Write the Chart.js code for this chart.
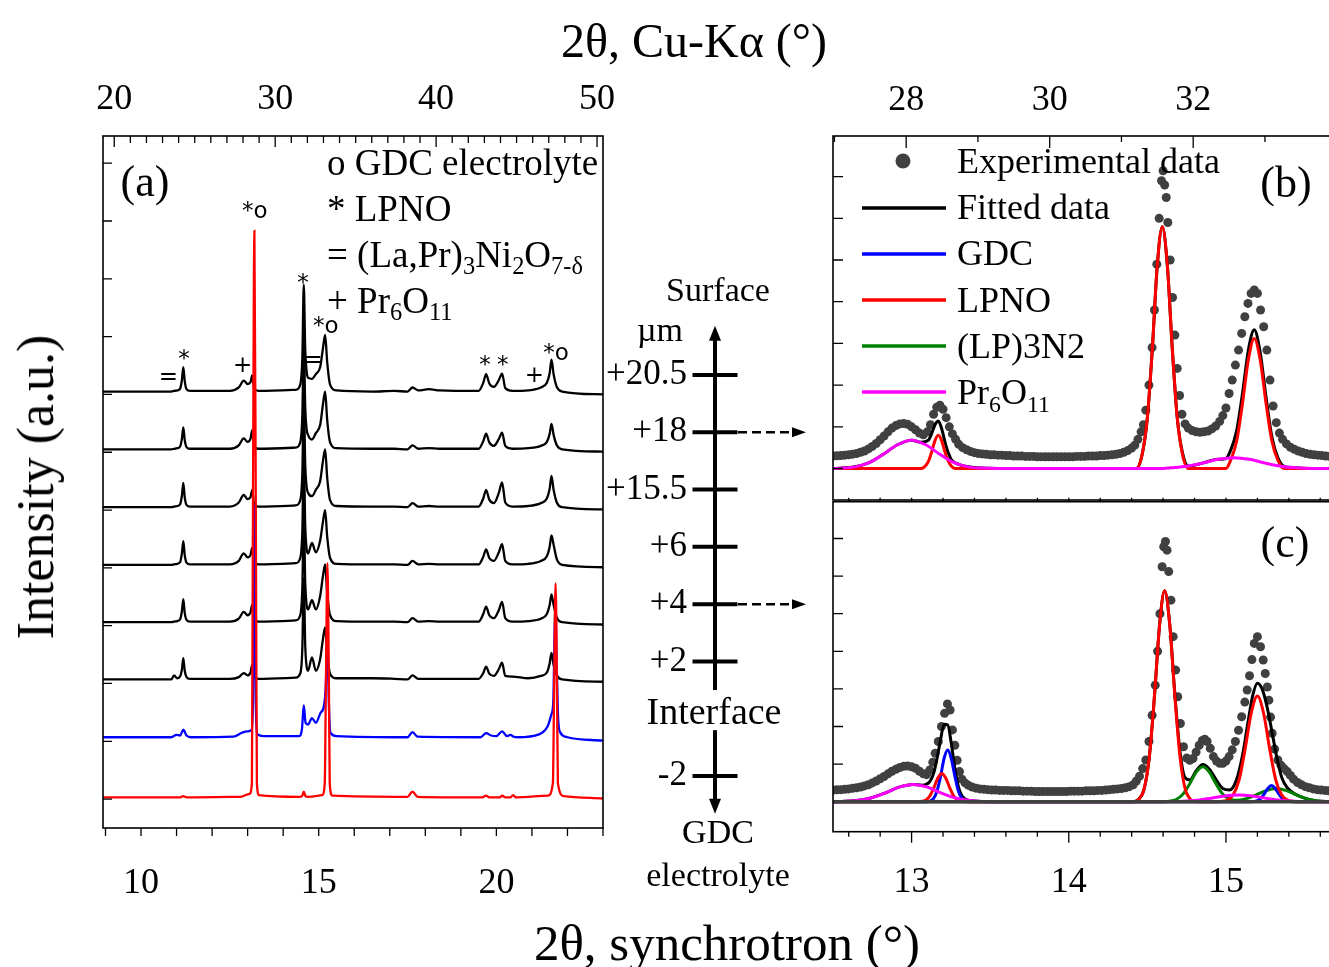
<!DOCTYPE html>
<html>
<head>
<meta charset="utf-8">
<script src="https://cdn.jsdelivr.net/npm/chart.js@4.4.0/dist/chart.umd.min.js"></script>
<style>
  body { margin: 0; width: 1329px; height: 967px; overflow: hidden; background: #fff; position: relative;
         font-family: 'Liberation Serif', 'Times New Roman', serif; color: #000; }
  canvas { position: absolute; }
  .t { position: absolute; white-space: nowrap; line-height: 1; }
  .c { transform: translate(-50%, -50%); }
  .l { transform: translateY(-50%); }
  sub { font-size: 0.66em; vertical-align: -0.32em; line-height: 0; }
</style>
</head>
<body>
<canvas id="ca" width="660" height="967" style="left:0;top:0"></canvas>
<canvas id="cd" width="230" height="640" style="left:600px;top:260px"></canvas>
<canvas id="cb" width="560" height="505" style="left:780px;top:0"></canvas>
<canvas id="cc" width="560" height="472" style="left:780px;top:495px"></canvas>
<div id="texts"></div>
<script>
// ---------- panel (a): depth profile, synchrotron 2theta ----------
const xTrace = [8.93, 10.85, 10.93, 11.02, 11.1, 11.15, 11.19, 11.23, 11.28, 11.38, 12.5, 12.75, 12.89, 13.0, 13.08, 13.13, 13.18, 13.3,
  14.35, 14.48, 14.54, 14.58, 14.62, 14.66, 14.7, 14.81, 14.92, 15.04, 15.12, 15.18, 15.24, 15.32, 15.5, 16.5, 17.13, 17.5, 17.64, 17.8,
  18.1, 18.4, 19.5, 19.63, 19.71, 19.8, 19.93, 20.07, 20.16, 20.25, 20.45, 20.9, 21.25, 21.42, 21.5, 21.55, 21.61, 21.7, 21.85, 23.0];
const trace205 = [0, 0, 0.01, 0.02, 0.05, 0.2, 0.42, 0.18, 0.04, 0.01, 0.01, 0.07, 0.19, 0.13, 0.16, 0.28, 0.05, 0.01, 0.03, 0.12, 0.6, 1.85,
  0.75, 0.35, 0.24, 0.22, 0.3, 0.42, 0.75, 0.98, 0.5, 0.12, 0.02, 0.0, 0.01, 0.0, 0.07, 0.02, 0.04, 0.02, 0.01, 0.15, 0.3, 0.14, 0.08, 0.2,
  0.31, 0.06, 0.01, 0.02, 0.07, 0.15, 0.32, 0.55, 0.3, 0.08, 0.0, -0.05];
const trace18 = [0, 0, 0.01, 0.02, 0.05, 0.18, 0.38, 0.16, 0.04, 0.01, 0.01, 0.07, 0.19, 0.13, 0.18, 0.33, 0.06, 0.01, 0.03, 0.12, 0.6, 1.9,
  0.75, 0.35, 0.25, 0.17, 0.28, 0.42, 0.78, 1.0, 0.5, 0.12, 0.02, 0.01, 0.01, 0, 0.07, 0.01, 0.02, 0.01, 0.01, 0.14, 0.27, 0.12, 0.06, 0.18,
  0.29, 0.06, 0.01, 0.02, 0.06, 0.13, 0.27, 0.44, 0.25, 0.07, 0, -0.04];
const trace155 = [0, 0, 0.01, 0.02, 0.05, 0.2, 0.42, 0.17, 0.04, 0.01, 0.01, 0.08, 0.21, 0.14, 0.17, 0.3, 0.06, 0.01, 0.03, 0.12, 0.6, 1.9,
  0.75, 0.35, 0.25, 0.19, 0.3, 0.45, 0.8, 1.0, 0.5, 0.12, 0.02, 0.01, 0.01, 0, 0.07, 0.01, 0.02, 0.01, 0.01, 0.15, 0.3, 0.13, 0.07, 0.25,
  0.43, 0.08, 0.01, 0.02, 0.07, 0.15, 0.32, 0.54, 0.3, 0.08, 0, -0.04];
const trace6 = [0, 0, 0.01, 0.02, 0.05, 0.2, 0.41, 0.17, 0.04, 0.01, 0.01, 0.07, 0.2, 0.13, 0.17, 0.3, 0.06, 0.01, 0.03, 0.12, 0.6, 1.9,
  0.7, 0.28, 0.2, 0.38, 0.22, 0.42, 0.75, 0.95, 0.48, 0.12, 0.02, 0.01, 0.01, 0, 0.07, 0.01, 0.02, 0.01, 0.01, 0.14, 0.27, 0.12, 0.07, 0.22,
  0.36, 0.07, 0.01, 0.02, 0.07, 0.15, 0.32, 0.51, 0.35, 0.1, 0, -0.04];
const trace4 = [0, 0, 0.01, 0.02, 0.05, 0.19, 0.4, 0.16, 0.04, 0.01, 0.01, 0.06, 0.18, 0.12, 0.17, 0.3, 0.06, 0.01, 0.03, 0.12, 0.6, 1.85,
  0.7, 0.3, 0.22, 0.38, 0.22, 0.45, 0.8, 1.0, 0.5, 0.12, 0.02, 0.01, 0.01, 0, 0.07, 0.01, 0.02, 0.01, 0.01, 0.14, 0.27, 0.12, 0.07, 0.21,
  0.35, 0.07, 0.01, 0.02, 0.06, 0.14, 0.3, 0.48, 0.3, 0.08, 0, -0.04];
const trace2 = [0, 0, 0.07, 0.02, 0.05, 0.17, 0.37, 0.15, 0.04, 0.01, 0.01, 0.04, 0.11, 0.07, 0.12, 0.25, 0.05, 0.01, 0.03, 0.1, 0.55, 1.75,
  0.6, 0.22, 0.15, 0.38, 0.15, 0.35, 0.7, 0.9, 0.45, 0.1, 0.02, 0.02, 0.01, 0, 0.07, 0.01, 0.01, 0.01, 0.01, 0.11, 0.22, 0.1, 0.06, 0.18,
  0.29, 0.06, 0.05, 0.02, 0.06, 0.12, 0.28, 0.46, 0.25, 0.07, 0, -0.04];

const xTraceM2 = [8.93, 10.85, 11.0, 11.1, 11.19, 11.28, 11.4, 12.6, 12.85, 13.0, 13.1, 13.15, 13.19, 13.23, 13.28, 13.45, 14.45, 14.53,
  14.58, 14.63, 14.7, 14.81, 14.92, 15.05, 15.15, 15.2, 15.245, 15.285, 15.33, 15.5, 17.5, 17.64, 17.78, 19.55, 19.71, 19.85, 20.0, 20.16,
  20.3, 20.4, 20.48, 20.6, 21.2, 21.45, 21.55, 21.6, 21.645, 21.665, 21.69, 21.74, 21.8, 22.0, 23.0];
const traceM2 = [0, 0, 0.04, 0.03, 0.13, 0.03, 0, 0.01, 0.08, 0.1, 0.12, 0.6, 4.0, 0.6, 0.05, 0.02, 0.02, 0.15, 0.55, 0.25, 0.22, 0.33,
  0.25, 0.42, 0.55, 0.9, 1.8, 0.6, 0.08, 0.02, 0, 0.09, 0.01, 0, 0.07, 0.03, 0.02, 0.1, 0.02, 0.04, 0.01, 0, 0.05, 0.2, 0.4, 0.6, 2.0,
  2.3, 1.5, 0.3, 0.08, 0, -0.06];

const xGdc = [8.93, 11.1, 11.19, 11.28, 12.8, 13.05, 13.12, 13.15, 13.19, 13.23, 13.26, 13.32, 14.45, 14.53, 14.58, 14.63, 14.7, 15.1,
  15.17, 15.205, 15.245, 15.285, 15.31, 15.38, 17.5, 17.64, 17.78, 19.6, 19.71, 19.8, 20.1, 20.16, 20.25, 20.4, 20.47, 20.55, 21.45,
  21.59, 21.625, 21.665, 21.705, 21.73, 21.9, 23.0];
const traceGdc = [0, 0, 0.02, 0, 0.01, 0.06, 0.25, 5.0, 9.8, 5.0, 0.25, 0.04, 0.01, 0.02, 0.1, 0.02, 0.01, 0.04, 0.25, 2.1, 4.05, 2.1,
  0.25, 0.03, 0.01, 0.1, 0.01, 0, 0.03, 0, 0, 0.03, 0, 0, 0.04, 0, 0.03, 0.25, 1.9, 3.7, 1.9, 0.25, 0.02, -0.02];

const stackOffsets = [7.05, 6.05, 5.05, 4.05, 3.06, 2.07, 1.07, 0.03];

const peakMarks = ['=', '*', '+', '*o', '*', '=', '*o', '*', '*', '+', '*o'];
const peakMarkX = [10.77, 11.21, 12.86, 13.2, 14.56, 14.84, 15.2, 19.68, 20.18, 21.07, 21.68];
const peakMarkY = [7.28, 7.6, 7.49, 10.16, 8.91, 7.58, 8.16, 7.49, 7.49, 7.32, 7.7];

const tickSync = [10, 15, 20];
const tickCuA = [20, 30, 40, 50];

// ---------- depth scheme ----------
const depthLabels = ['+20.5', '+18', '+15.5', '+6', '+4', '+2', '', '-2'];
const depthArrows = ['+18', '+4'];

// ---------- panel (b): +18 um ----------
const expB = [
  [12.5, .30], [12.525, .305], [12.55, .31], [12.575, .32], [12.6, .33], [12.625, .345], [12.65, .36], [12.675, .39], [12.7, .42],
  [12.725, .47], [12.75, .53], [12.775, .6], [12.8, .69], [12.825, .78], [12.85, .88], [12.875, .97], [12.9, 1.03], [12.925, 1.07],
  [12.95, 1.08], [12.975, 1.06], [13.0, 1.0], [13.025, .93], [13.05, .85], [13.075, .81], [13.1, .88], [13.12, 1.05], [13.14, 1.3],
  [13.16, 1.47], [13.18, 1.52], [13.2, 1.42], [13.22, 1.22], [13.24, 1.0], [13.26, .83], [13.28, .7], [13.3, .58], [13.325, .5],
  [13.35, .45], [13.375, .41], [13.4, .38], [13.425, .36], [13.45, .35],
  [13.475, .34], [13.5, .33], [13.525, .33], [13.55, .32], [13.575, .32], [13.6, .31], [13.625, .31], [13.65, .3], [13.675, .3],
  [13.7, .3], [13.725, .29], [13.75, .29], [13.775, .29], [13.8, .28], [13.825, .28], [13.85, .28], [13.875, .28], [13.9, .28],
  [13.925, .28], [13.95, .28], [13.975, .28], [14.0, .28], [14.025, .28], [14.05, .29], [14.075, .29], [14.1, .29], [14.125, .3],
  [14.15, .3], [14.175, .3], [14.2, .31], [14.225, .31], [14.25, .32], [14.275, .33], [14.3, .34], [14.325, .36], [14.35, .39],
  [14.375, .43], [14.4, .49],
  [14.42, .56], [14.44, .7], [14.46, .88], [14.475, 1.05], [14.49, 1.4], [14.51, 2.0], [14.53, 2.9], [14.545, 3.8], [14.56, 4.9],
  [14.575, 6.0], [14.59, 6.9], [14.6, 7.14], [14.61, 6.8], [14.62, 6.5], [14.63, 5.9], [14.645, 5.0], [14.66, 4.1], [14.675, 3.2],
  [14.69, 2.4], [14.705, 1.75], [14.72, 1.3],
  [14.74, 1.07], [14.76, .97], [14.785, .91], [14.81, .88], [14.835, .87], [14.86, .88], [14.885, .9], [14.91, .95], [14.935, 1.02],
  [14.96, 1.13], [14.98, 1.27], [15.0, 1.45],
  [15.02, 1.8], [15.04, 2.12], [15.06, 2.48], [15.08, 2.84], [15.1, 3.24], [15.12, 3.64], [15.14, 3.96], [15.16, 4.2], [15.18, 4.28],
  [15.2, 4.2], [15.22, 3.8], [15.24, 3.4], [15.26, 2.84], [15.28, 2.12], [15.3, 1.5], [15.32, 1.1], [15.34, .85],
  [15.36, .7], [15.385, .59], [15.41, .51], [15.435, .46], [15.46, .42], [15.485, .39], [15.51, .36], [15.535, .34], [15.56, .33],
  [15.585, .32], [15.61, .31], [15.635, .3], [15.66, .29], [15.685, .285], [15.71, .28]
];
const xFitB = [12.5, 12.64, 12.73, 12.82, 12.91, 13.0, 13.06, 13.107, 13.128, 13.149, 13.17, 13.191, 13.212, 13.234, 13.255, 13.3, 13.36,
  13.45, 13.6, 14.43, 14.468, 14.5, 14.532, 14.563, 14.595, 14.627, 14.658, 14.69, 14.722, 14.76, 14.85, 14.95, 15.0, 15.03, 15.068, 15.105,
  15.143, 15.18, 15.217, 15.255, 15.292, 15.33, 15.37, 15.45, 15.55, 15.7];
const fitB = [0, 0.04, 0.14, 0.34, 0.57, 0.68, 0.63, 0.68, 0.84, 1.05, 1.14, 0.96, 0.64, 0.37, 0.2, 0.1, 0.04, 0.01, 0, 0, 0.36, 1.22, 2.9,
  4.87, 5.8, 4.87, 2.9, 1.22, 0.4, 0.06, 0.13, 0.22, 0.24, 0.44, 0.91, 1.8, 2.85, 3.33, 2.8, 1.71, 0.76, 0.26, 0.05, 0.016, 0, 0];
const xLpnoB = [12.5, 13.06, 13.085, 13.107, 13.128, 13.149, 13.17, 13.191, 13.212, 13.234, 13.255, 13.28, 14.43, 14.468, 14.5, 14.532,
  14.563, 14.595, 14.627, 14.658, 14.69, 14.722, 14.76, 15.0, 15.03, 15.068, 15.105, 15.143, 15.18, 15.217, 15.255, 15.292, 15.33, 15.37, 15.7];
const lpnoB = [0, 0, 0.05, 0.17, 0.4, 0.67, 0.8, 0.67, 0.4, 0.17, 0.05, 0, 0, 0.36, 1.22, 2.9, 4.87, 5.8, 4.87, 2.9, 1.22, 0.36, 0, 0,
  0.2, 0.66, 1.56, 2.62, 3.12, 2.62, 1.56, 0.66, 0.2, 0, 0];
const xPrB = [12.5, 12.55, 12.64, 12.73, 12.82, 12.91, 13.0, 13.09, 13.18, 13.27, 13.36, 13.45, 13.55, 14.6, 14.65, 14.75, 14.85, 14.95,
  15.05, 15.15, 15.25, 15.35, 15.45, 15.55, 15.7];
const prB = [0, 0.01, 0.04, 0.14, 0.34, 0.57, 0.68, 0.57, 0.34, 0.14, 0.04, 0.01, 0, 0, 0.016, 0.055, 0.13, 0.22, 0.26, 0.22, 0.13, 0.055,
  0.016, 0, 0];

// ---------- panel (c): +4 um ----------
const expC = [
  [12.5, .31], [12.525, .315], [12.55, .32], [12.575, .33], [12.6, .34], [12.625, .355], [12.65, .37], [12.675, .39], [12.7, .42],
  [12.725, .45], [12.75, .5], [12.775, .55], [12.8, .61], [12.825, .67], [12.85, .74], [12.875, .81], [12.9, .86], [12.925, .91],
  [12.95, .94], [12.975, .95], [13.0, .93], [13.025, .89], [13.05, .81], [13.075, .74], [13.095, .72], [13.115, .84], [13.135, 1.05],
  [13.15, 1.29], [13.17, 1.6], [13.19, 2.0], [13.21, 2.35], [13.228, 2.6], [13.245, 2.44], [13.26, 1.91], [13.275, 1.5], [13.29, 1.1],
  [13.305, .8], [13.32, .6], [13.34, .5], [13.36, .44], [13.385, .39], [13.41, .36], [13.435, .34],
  [13.46, .33], [13.485, .32], [13.51, .31], [13.535, .31], [13.56, .3], [13.585, .3], [13.61, .3], [13.635, .29], [13.66, .29],
  [13.685, .29], [13.71, .28], [13.735, .28], [13.76, .28], [13.785, .27], [13.81, .27], [13.835, .27], [13.86, .27], [13.885, .27],
  [13.91, .27], [13.935, .27], [13.96, .27], [13.985, .27], [14.01, .28], [14.035, .28], [14.06, .28], [14.085, .28], [14.11, .29],
  [14.135, .29], [14.16, .29], [14.185, .3], [14.21, .3], [14.235, .31], [14.26, .32], [14.285, .33], [14.31, .34], [14.335, .35],
  [14.36, .37], [14.385, .4], [14.41, .45],
  [14.43, .55], [14.45, .68], [14.47, .88], [14.49, 1.11], [14.51, 1.6], [14.53, 2.3], [14.55, 3.1], [14.565, 4.0], [14.58, 5.0],
  [14.594, 6.25], [14.604, 6.78], [14.615, 6.92], [14.625, 6.69], [14.636, 6.12], [14.65, 5.36], [14.664, 4.39], [14.68, 3.5],
  [14.693, 2.79], [14.71, 2.08], [14.73, 1.46], [14.75, 1.16],
  [14.77, 1.1], [14.79, 1.15], [14.81, 1.32], [14.83, 1.5], [14.85, 1.63], [14.865, 1.66], [14.88, 1.6], [14.9, 1.42], [14.92, 1.2],
  [14.94, 1.08], [14.96, 1.02], [14.98, 1.02], [15.0, 1.08],
  [15.02, 1.2], [15.04, 1.38], [15.06, 1.6], [15.08, 1.9], [15.1, 2.26], [15.12, 2.65], [15.135, 2.97], [15.15, 3.35], [15.165, 3.78],
  [15.18, 4.21], [15.2, 4.39], [15.22, 4.12], [15.237, 3.77], [15.25, 3.41], [15.263, 3.05], [15.273, 2.7], [15.284, 2.25], [15.294, 1.82],
  [15.31, 1.4], [15.33, 1.11],
  [15.35, .97], [15.37, .88], [15.39, .8], [15.41, .7], [15.43, .6], [15.455, .51], [15.48, .45], [15.505, .4], [15.53, .37],
  [15.555, .34], [15.58, .32], [15.605, .31], [15.63, .3], [15.655, .29], [15.68, .28], [15.71, .27]
];
const xFitC = [12.5, 12.65, 12.74, 12.83, 12.92, 13.01, 13.067, 13.117, 13.142, 13.162, 13.185, 13.207, 13.23, 13.252, 13.275, 13.297,
  13.32, 13.37, 13.46, 13.55, 14.4, 14.447, 14.48, 14.512, 14.545, 14.578, 14.61, 14.642, 14.675, 14.708, 14.74, 14.772, 14.81, 14.853,
  14.895, 14.938, 14.98, 15.023, 15.065, 15.105, 15.14, 15.17, 15.2, 15.23, 15.26, 15.29, 15.32, 15.355, 15.394, 15.45, 15.515, 15.58, 15.645, 15.7];
const fitC = [0, 0.03, 0.1, 0.23, 0.387, 0.46, 0.44, 0.54, 0.78, 1.15, 1.67, 2.06, 2.04, 1.57, 0.9, 0.41, 0.16, 0.03, 0.006, 0, 0, 0.074,
  0.35, 1.18, 2.8, 4.72, 5.61, 4.73, 2.85, 1.32, 0.64, 0.58, 0.82, 0.99, 0.865, 0.58, 0.35, 0.31, 0.56, 1.23, 2.11, 2.82, 3.15, 3.0, 2.55,
  1.92, 1.25, 0.64, 0.35, 0.18, 0.074, 0.022, 0.005, 0];
const xLpnoC = [12.5, 13.04, 13.067, 13.092, 13.117, 13.142, 13.167, 13.192, 13.217, 13.242, 13.267, 13.292, 13.317, 13.34, 14.415, 14.447,
  14.48, 14.512, 14.545, 14.578, 14.61, 14.642, 14.675, 14.708, 14.74, 14.772, 14.805, 14.93, 14.967, 15.006, 15.045, 15.084, 15.122,
  15.161, 15.2, 15.239, 15.278, 15.316, 15.355, 15.394, 15.433, 15.47, 15.7];
const lpnoC = [0, 0, 0.01, 0.047, 0.158, 0.375, 0.63, 0.75, 0.63, 0.375, 0.158, 0.047, 0.01, 0, 0, 0.074, 0.35, 1.18, 2.8, 4.72, 5.61,
  4.72, 2.8, 1.18, 0.35, 0.074, 0, 0, 0.006, 0.037, 0.176, 0.59, 1.405, 2.36, 2.81, 2.36, 1.405, 0.59, 0.176, 0.037, 0.006, 0, 0];
const xGdcC = [12.5, 13.095, 13.117, 13.14, 13.162, 13.185, 13.207, 13.23, 13.252, 13.275, 13.297, 13.32, 13.342, 13.365, 15.155, 15.2,
  15.222, 15.245, 15.267, 15.29, 15.312, 15.335, 15.357, 15.38, 15.425, 15.7];
const gdcC = [0, 0, 0.018, 0.086, 0.289, 0.6875, 1.156, 1.375, 1.156, 0.6875, 0.289, 0.086, 0.018, 0, 0, 0.027, 0.09, 0.215, 0.36, 0.43,
  0.36, 0.215, 0.09, 0.027, 0, 0];
const xLp32C = [12.5, 14.6, 14.64, 14.683, 14.725, 14.768, 14.81, 14.853, 14.895, 14.938, 14.98, 15.023, 15.065, 15.125, 15.19, 15.255,
  15.32, 15.385, 15.45, 15.515, 15.58, 15.645, 15.7];
const lp32C = [0, 0, 0.012, 0.058, 0.195, 0.465, 0.782, 0.93, 0.782, 0.465, 0.197, 0.068, 0.036, 0.074, 0.175, 0.294, 0.35, 0.294, 0.175,
  0.074, 0.022, 0.005, 0];
const xPrC = [12.5, 12.56, 12.65, 12.74, 12.83, 12.92, 13.01, 13.1, 13.19, 13.28, 13.37, 13.46, 13.55, 14.56, 14.64, 14.73, 14.817, 14.905,
  14.992, 15.08, 15.167, 15.255, 15.342, 15.43, 15.52, 15.6, 15.7];
const prC = [0, 0.006, 0.029, 0.097, 0.23, 0.387, 0.46, 0.387, 0.23, 0.097, 0.029, 0.006, 0, 0, 0.002, 0.011, 0.038, 0.09, 0.151, 0.18,
  0.151, 0.09, 0.038, 0.011, 0.002, 0, 0];

const tickZoomSync = [13, 14, 15];
const tickZoomCu = [28, 30, 32];

const legendA = ['o GDC electrolyte', '* LPNO', '= (La,Pr)<sub>3</sub>Ni<sub>2</sub>O<sub>7-δ</sub>', '+ Pr<sub>6</sub>O<sub>11</sub>'];
const legendB = ['Experimental data', 'Fitted data', 'GDC', 'LPNO', '(LP)3N2', 'Pr<sub>6</sub>O<sub>11</sub>'];

// ---------- styling ----------
const serif = "'Liberation Serif', 'Times New Roman', serif";
const EXP = '#404040', FIT = '#000000', GDC = '#0000ff', LPNO = '#ff0000', LP32 = '#008000', PR = '#ff00ff';
Chart.defaults.font.family = serif;
Chart.defaults.color = '#000';

function steps(from, to, step) {
  const out = [];
  for (let v = from; v <= to + 1e-9; v += step) out.push(+v.toFixed(4));
  return out;
}
const line = (xs, ys, color, width, off = 0) => ({
  data: xs.map((x, i) => ({ x, y: ys[i] + off })),
  showLine: true, borderColor: color, borderWidth: width, pointRadius: 0,
  cubicInterpolationMode: 'monotone', fill: false
});
const dots = pts => ({
  data: pts.map(([x, y]) => ({ x, y })),
  showLine: false, pointRadius: 4.5, pointBackgroundColor: EXP, pointBorderWidth: 0
});
function labelAxis(position, min, max, labels, size, pad) {
  return {
    type: 'linear', position, min, max,
    grid: { display: false, drawTicks: false }, border: { display: false },
    ticks: { font: { family: serif, size: 36 }, color: '#000', padding: pad, maxRotation: 0, autoSkip: false },
    afterBuildTicks: s => { s.ticks = labels.map(v => ({ value: v })); },
    afterFit: s => { s.height = size; }
  };
}
const hidden = (min, max) => ({ type: 'linear', display: false, min, max });
const base = pad => ({
  responsive: false, animation: false, devicePixelRatio: 1, events: [],
  layout: { padding: pad, autoPadding: false },
  plugins: { legend: { display: false }, tooltip: { enabled: false } }
});

// frame and inward/outward ticks
function framePlugin(spec) {
  return {
    id: 'frame',
    afterDatasetsDraw(chart) {
      const { ctx, chartArea: a } = chart;
      ctx.save();
      ctx.strokeStyle = '#000';
      ctx.lineWidth = 1.6;
      ctx.strokeRect(a.left, a.top, a.right - a.left, a.bottom - a.top);
      ctx.lineWidth = 1.3;
      spec.forEach(t => {
        const sc = chart.scales[t.axis];
        const s = t.out ? 1 : -1;
        ctx.beginPath();
        t.values.forEach(v => {
          const p = sc.getPixelForValue(v);
          const len = t.major && t.major.includes(v) ? t.majorLen : t.len;
          if (t.side === 'bottom' || t.side === 'top') {
            if (p < a.left - 0.5 || p > a.right + 0.5) return;
            const y0 = t.side === 'bottom' ? a.bottom : a.top;
            ctx.moveTo(p, y0);
            ctx.lineTo(p, y0 + (t.side === 'bottom' ? s : -s) * len);
          } else {
            if (p < a.top - 0.5 || p > a.bottom + 0.5) return;
            const x0 = t.side === 'left' ? a.left : a.right;
            ctx.moveTo(x0, p);
            ctx.lineTo(x0 + (t.side === 'left' ? -s : s) * len, p);
          }
        });
        ctx.stroke();
      });
      ctx.restore();
    }
  };
}

const peakLabels = {
  id: 'peakLabels',
  afterDatasetsDraw(chart) {
    const { ctx, scales: { x, y } } = chart;
    ctx.save();
    ctx.font = "23px 'DejaVu Sans'";
    ctx.fillStyle = '#000';
    ctx.textAlign = 'center';
    ctx.textBaseline = 'middle';
    peakMarks.forEach((m, i) => ctx.fillText(m, x.getPixelForValue(peakMarkX[i]), y.getPixelForValue(peakMarkY[i])));
    ctx.restore();
  }
};

// ---------- chart (a) ----------
const tracesA = [
  [xGdc, traceGdc, LPNO, 7], [xTraceM2, traceM2, GDC, 6],
  [xTrace, trace2, FIT, 5], [xTrace, trace4, FIT, 4], [xTrace, trace6, FIT, 3],
  [xTrace, trace155, FIT, 2], [xTrace, trace18, FIT, 1], [xTrace, trace205, FIT, 0]
];
new Chart(document.getElementById('ca'), {
  type: 'scatter',
  data: { datasets: tracesA.map(([xs, ys, c, k]) => line(xs, ys, c, 2.3, stackOffsets[k])) },
  options: Object.assign(base({ left: 103, right: 57, top: 0, bottom: 0 }), {
    scales: {
      x: labelAxis('bottom', 8.93, 23, tickSync, 139, 34),
      x2: labelAxis('top', 19.3, 50.37, tickCuA, 136, 15),
      y: hidden(-0.5, 11.47)
    }
  }),
  plugins: [peakLabels, framePlugin([
    { axis: 'x', side: 'bottom', out: true, values: steps(9, 23, 1), len: 8 },
    { axis: 'x2', side: 'top', out: false, values: steps(20, 50, 1), len: 7, major: tickCuA, majorLen: 11 },
    { axis: 'y', side: 'left', out: false, values: steps(0, 11, 1), len: 9 }
  ])]
});

// ---------- chart (b) ----------
const legendSwatches = {
  id: 'legendSwatches',
  afterDraw(chart) {
    const { ctx, chartArea: a } = chart;
    ctx.save();
    ctx.fillStyle = EXP;
    ctx.beginPath();
    ctx.arc(a.left + 70, a.top + 25, 7.5, 0, 2 * Math.PI);
    ctx.fill();
    ctx.lineWidth = 3.5;
    [FIT, GDC, LPNO, LP32, PR].forEach((c, i) => {
      const yy = a.top + 72 + 46 * i;
      ctx.strokeStyle = c;
      ctx.beginPath();
      ctx.moveTo(a.left + 29, yy);
      ctx.lineTo(a.left + 113, yy);
      ctx.stroke();
    });
    ctx.restore();
  }
};
new Chart(document.getElementById('cb'), {
  type: 'scatter',
  data: { datasets: [
    line(xPrB, prB, PR, 3), line(xLpnoB, lpnoB, LPNO, 3), line(xFitB, fitB, FIT, 3), dots(expB)
  ] },
  options: Object.assign(base({ left: 53, right: 4, top: 0, bottom: 5 }), {
    scales: {
      x: hidden(12.5, 15.7),
      x2: labelAxis('top', 26.98, 33.99, tickZoomCu, 136, 14),
      y: hidden(-0.755, 7.974)
    }
  }),
  plugins: [legendSwatches, framePlugin([
    { axis: 'x2', side: 'top', out: false, values: steps(27, 33, 1), len: 6, major: tickZoomCu, majorLen: 12 },
    { axis: 'y', side: 'left', out: false, values: steps(0, 7, 1), len: 10 }
  ])]
});

// ---------- chart (c) ----------
new Chart(document.getElementById('cc'), {
  type: 'scatter',
  data: { datasets: [
    line([12.5, 15.7], [0, 0], EXP, 3.5),
    line(xPrC, prC, PR, 3), line(xLpnoC, lpnoC, LPNO, 3), line(xGdcC, gdcC, GDC, 3),
    line(xLp32C, lp32C, LP32, 3), line(xFitC, fitC, FIT, 3), dots(expC)
  ] },
  options: Object.assign(base({ left: 53, right: 4, top: 6.7, bottom: 0 }), {
    scales: {
      x: labelAxis('bottom', 12.5, 15.7, tickZoomSync, 135.3, 29),
      y: hidden(-0.798, 7.979)
    }
  }),
  plugins: [framePlugin([
    { axis: 'x', side: 'bottom', out: true, values: steps(12.6, 15.6, 0.2), len: 5, major: tickZoomSync, majorLen: 11 },
    { axis: 'x', side: 'top', out: true, values: steps(12.6, 15.6, 0.2), len: 4 },
    { axis: 'y', side: 'left', out: false, values: steps(1, 7, 1), len: 10 }
  ])]
});

// ---------- depth scheme ----------
function arrowHead(ctx, x, y, dx, dy, len, half) {
  ctx.beginPath();
  ctx.moveTo(x, y);
  ctx.lineTo(x - dx * len - dy * half, y - dy * len + dx * half);
  ctx.lineTo(x - dx * len + dy * half, y - dy * len - dx * half);
  ctx.closePath();
  ctx.fill();
}
const depthAxis = {
  id: 'depthAxis',
  afterDatasetsDraw(chart) {
    const { ctx, scales: { x, y }, chartArea: a } = chart;
    const x0 = x.getPixelForValue(0);
    const step = y.getPixelForValue(1) - y.getPixelForValue(0);
    const gap = depthLabels.indexOf('');
    ctx.save();
    ctx.strokeStyle = ctx.fillStyle = '#000';
    ctx.lineWidth = 4;
    const upTop = y.getPixelForValue(0) - 0.86 * step, upBot = y.getPixelForValue(gap - 1) + 0.5 * step;
    ctx.beginPath(); ctx.moveTo(x0, upBot); ctx.lineTo(x0, upTop + 10); ctx.stroke();
    arrowHead(ctx, x0, upTop, 0, -1, 15, 6);
    const dnTop = y.getPixelForValue(gap + 1) - 0.8 * step, dnBot = y.getPixelForValue(gap + 1) + 0.66 * step;
    ctx.beginPath(); ctx.moveTo(x0, dnTop); ctx.lineTo(x0, dnBot - 10); ctx.stroke();
    arrowHead(ctx, x0, dnBot, 0, 1, 15, 6);
    ctx.lineWidth = 2.5;
    depthArrows.forEach(l => {
      const yy = y.getPixelForValue(depthLabels.indexOf(l));
      const xEnd = a.right - 24;
      ctx.setLineDash([9, 5]);
      ctx.beginPath(); ctx.moveTo(x0 + 23, yy); ctx.lineTo(xEnd - 10, yy); ctx.stroke();
      ctx.setLineDash([]);
      arrowHead(ctx, xEnd, yy, 1, 0, 14, 5);
    });
    ctx.restore();
  }
};
new Chart(document.getElementById('cd'), {
  type: 'scatter',
  data: { datasets: [{
    data: depthLabels.filter(l => l).map(l => ({ x: 0, y: l })),
    showLine: false, pointStyle: 'line', pointRadius: 22.5, pointBorderWidth: 4, pointBorderColor: '#000', clip: false
  }] },
  options: Object.assign(base({ left: 0, right: 0, top: 115, bottom: 124 }), {
    scales: {
      x: hidden(-1, 4.6),
      y: {
        type: 'category', labels: depthLabels, position: 'left',
        grid: { display: false, drawTicks: false }, border: { display: false },
        ticks: { font: { family: serif, size: 35 }, color: '#000', padding: 3, autoSkip: false },
        afterFit: s => { s.width = 90; }
      }
    }
  }),
  plugins: [depthAxis]
});

// ---------- text ----------
const texts = [
  ['c', 694, 41, 48, '2θ, Cu-Kα (°)'],
  ['c', 727, 943, 51, '2θ, synchrotron (°)'],
  ['c', 145, 182, 44, '(a)'],
  ['c', 1286, 183, 44, '(b)'],
  ['c', 1285, 543, 44, '(c)'],
  ['c', 718, 290, 34, 'Surface'],
  ['c', 660, 330, 34, 'µm'],
  ['c', 714, 711, 38, 'Interface'],
  ['c', 718, 832, 34, 'GDC'],
  ['c', 718, 875, 34, 'electrolyte']
];
legendA.forEach((s, i) => texts.push(['l', 327, 162 + 46 * i, 37, s]));
legendB.forEach((s, i) => texts.push(['l', 957, 161 + 46.2 * i, 36, s]));
const box = document.getElementById('texts');
texts.forEach(([cls, x, y, size, html]) => {
  const d = document.createElement('div');
  d.className = 't ' + cls;
  d.style.left = x + 'px';
  d.style.top = y + 'px';
  d.style.fontSize = size + 'px';
  d.innerHTML = html;
  box.appendChild(d);
});
const yt = document.createElement('div');
yt.className = 't';
yt.style.cssText = 'left:36px;top:487px;font-size:52px;transform:translate(-50%,-50%) rotate(-90deg);';
yt.textContent = 'Intensity (a.u.)';
box.appendChild(yt);
</script>
</body>
</html>
